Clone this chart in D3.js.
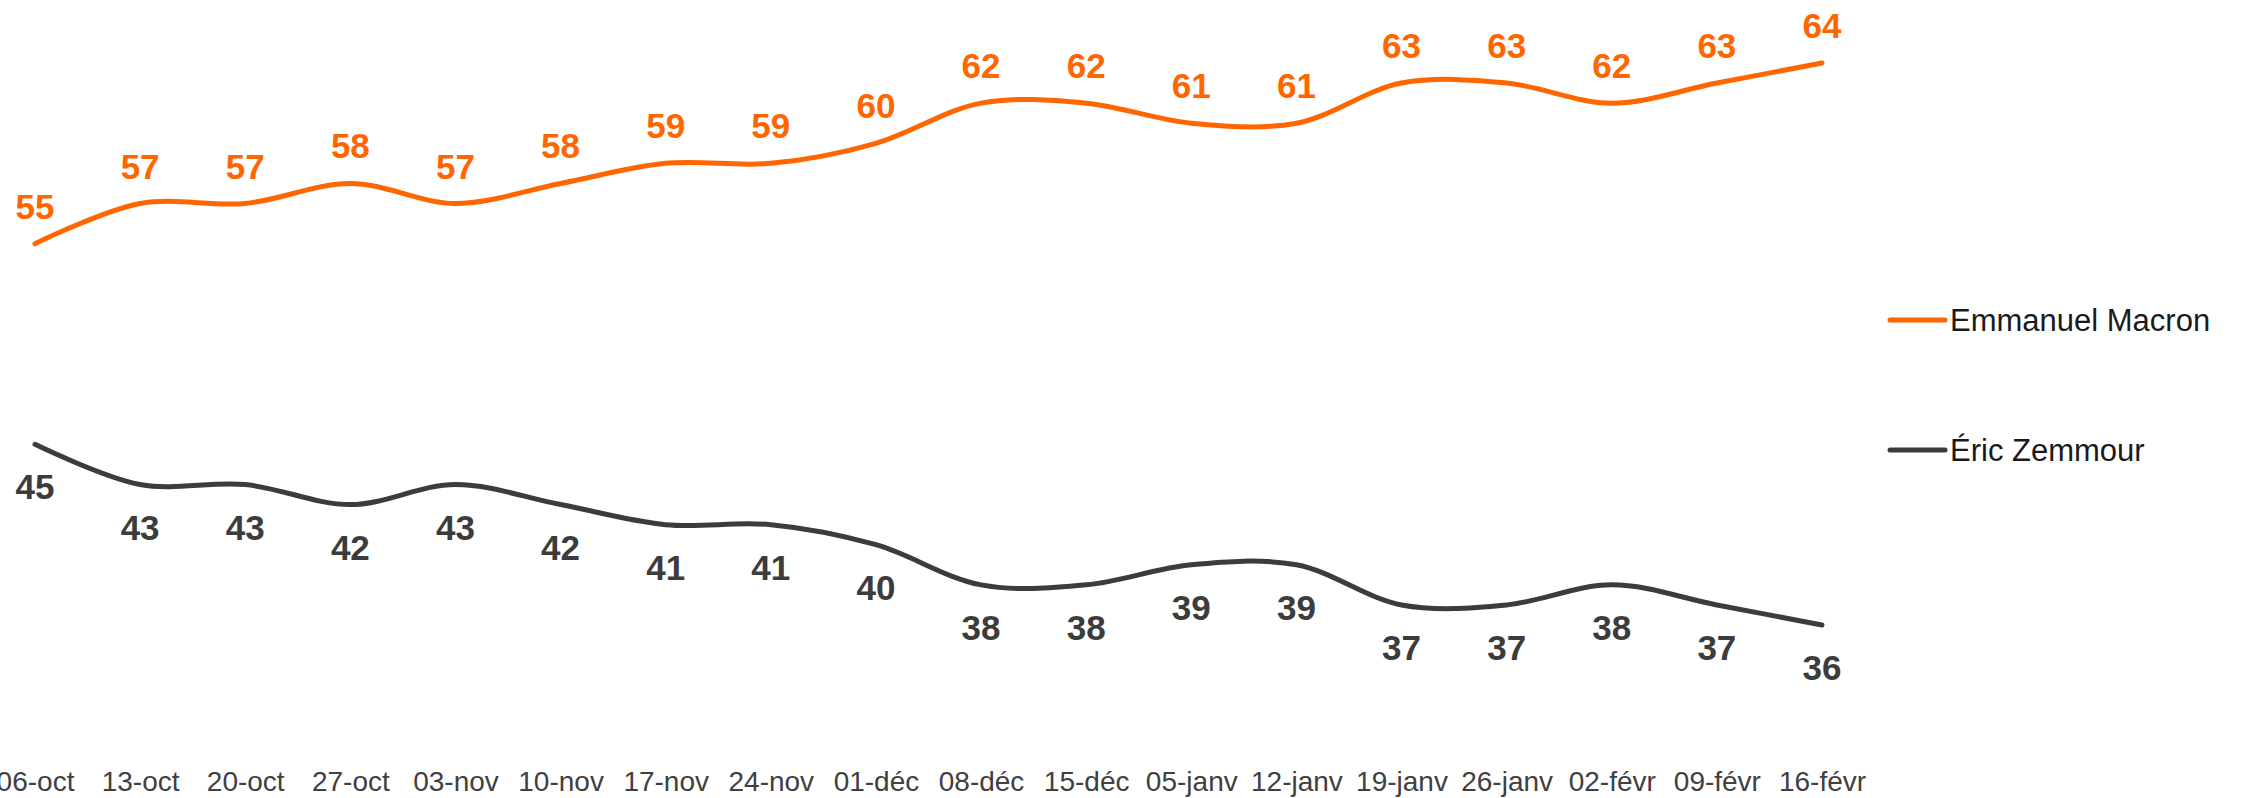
<!DOCTYPE html>
<html lang="fr">
<head>
    <meta charset="UTF-8">
    <title>Macron / Zemmour</title>
    <script src="https://cdn.jsdelivr.net/npm/d3@7"></script>
    <style>
        body { margin: 0; background: #fff; }
        svg { display: block; font-family: "Liberation Sans", Arial, sans-serif; }
    </style>
</head>
<body>
    <div id="chart"></div>
    <script>
        const dates = ["06-oct", "13-oct", "20-oct", "27-oct", "03-nov", "10-nov", "17-nov", "24-nov", "01-déc",
            "08-déc", "15-déc", "05-janv", "12-janv", "19-janv", "26-janv", "02-févr", "09-févr", "16-févr"];
        const macron = [55, 57, 57, 58, 57, 58, 59, 59, 60, 62, 62, 61, 61, 63, 63, 62, 63, 64];
        const zemmour = [45, 43, 43, 42, 43, 42, 41, 41, 40, 38, 38, 39, 39, 37, 37, 38, 37, 36];
        const seriesNames = ["Emmanuel Macron", "Éric Zemmour"];

        const width = 2242, height = 798;
        const series = [
            { name: seriesNames[0], values: macron, color: "#ff6600", dy: -25 },
            { name: seriesNames[1], values: zemmour, color: "#3c3c3c", dy: 55 }
        ];

        const svg = d3.select("#chart").append("svg")
            .attr("width", width)
            .attr("height", height);

        const x = d3.scalePoint().domain(dates).range([35, 1822]);
        const y = d3.scaleLinear().domain([36, 64]).range([625, 63]);

        const line = d3.line()
            .x((d, i) => x(dates[i]))
            .y(d => y(d))
            .curve(d3.curveCatmullRom.alpha(0.5));

        series.forEach(s => {
            svg.append("path")
                .datum(s.values)
                .attr("fill", "none")
                .attr("stroke", s.color)
                .attr("stroke-width", 5)
                .attr("stroke-linecap", "round")
                .attr("d", line);

            svg.append("g").selectAll("text")
                .data(s.values)
                .enter()
                .append("text")
                .attr("x", (d, i) => x(dates[i]))
                .attr("y", d => y(d) + s.dy)
                .attr("text-anchor", "middle")
                .attr("font-size", 35)
                .attr("font-weight", "bold")
                .attr("fill", s.color)
                .text(d => d);
        });

        // x axis labels only, no domain line or ticks
        const xAxis = d3.axisBottom(x).tickSize(0).tickPadding(0);
        const gx = svg.append("g")
            .attr("transform", "translate(0,770)")
            .call(xAxis);
        gx.select(".domain").remove();
        gx.selectAll("text")
            .attr("dy", 0)
            .attr("y", 21)
            .attr("font-size", 28)
            .attr("font-family", "'Liberation Sans', Arial, sans-serif")
            .attr("fill", "#404040");

        // legend
        const legend = svg.append("g").selectAll("g")
            .data(series)
            .enter()
            .append("g")
            .attr("transform", (d, i) => `translate(1890,${320 + i * 130})`);
        legend.append("line")
            .attr("x1", 0).attr("x2", 55)
            .attr("stroke", d => d.color)
            .attr("stroke-width", 5)
            .attr("stroke-linecap", "round");
        legend.append("text")
            .attr("x", 60)
            .attr("y", 11)
            .attr("font-size", 31)
            .attr("fill", "#1a1a1a")
            .text(d => d.name);
    </script>
</body>
</html>
